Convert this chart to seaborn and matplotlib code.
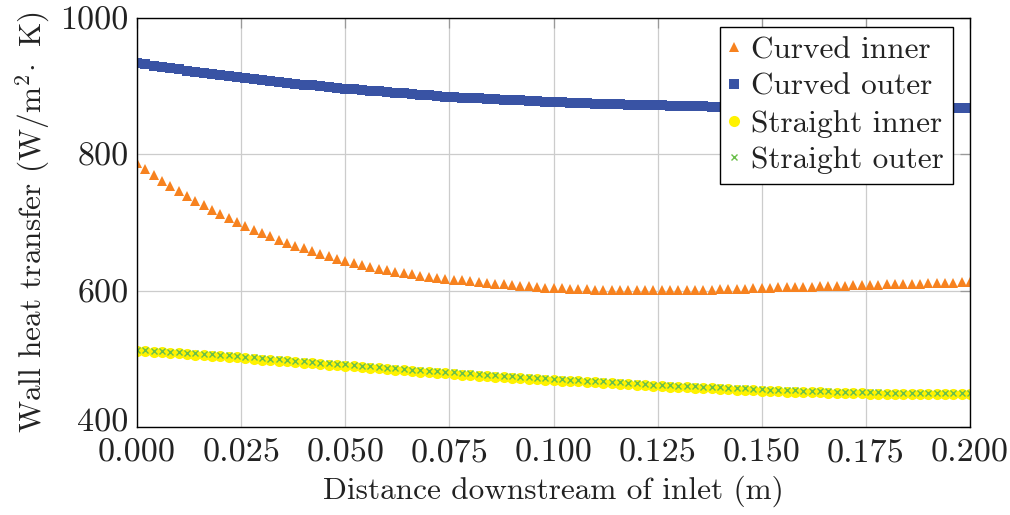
import numpy as np
import pandas as pd
import matplotlib
matplotlib.use("Agg")
import matplotlib.pyplot as plt
import matplotlib.transforms as mtransforms
import seaborn as sns

# ---------------- data ----------------
distance = [round(i * 0.002, 3) for i in range(101)]

curved_inner = [
    787, 778, 770, 761.5, 753.5, 746, 738.5, 731.5, 725, 718.5, 712.5, 706.5, 700.5,
    695, 689.5, 684.5, 679.5, 675, 670.5, 666, 662, 658, 654, 650.5, 647, 644, 640.5,
    637.5, 634.5,
    632.5, 630, 628, 626, 624, 622, 620.5, 619, 617.5,
    616, 615, 613.5, 612.5, 611.5, 610.5, 609.5, 608.5, 607.5, 606.5, 605.5, 604.5, 604,
    603.5, 603, 602.5, 602, 601.5, 601.5, 601, 601, 600.5, 600.5, 600.5, 600.5,
    600.5, 600.5, 600.5, 601, 601, 601.5, 601.5, 602, 602.5, 602.5, 603, 603.5, 604,
    604.5, 605, 605, 605.5, 606, 606, 606.5, 607, 607, 607.5, 608, 608.5,
    609, 609, 609.5, 610, 610, 610.5, 610.5, 611, 611, 611.5, 611.5, 612, 612,
]

curved_outer = [
    934, 932, 930, 928, 926, 924.5, 922.5, 921, 919.5, 918, 916.5, 915, 913,
    911.5, 910, 908.5, 907, 906, 904.5, 903.5, 902, 901, 900, 898.5, 897.5, 896.5,
    895.5, 894.5, 893.5, 892.5, 891.5, 890.5, 889.5, 888.5, 887.5, 886.5, 885.5, 884.5,
    883.5, 883, 882.5, 882, 881.5, 881, 880, 879.5, 879, 878.5, 878, 877.5, 877,
    876.5, 876, 875.5, 875, 874.5, 874.5, 874, 873.5, 873, 873, 872.5, 872,
    872, 871.5, 871, 871, 870.5, 870.5, 870, 870, 869.5, 869.5, 869.5, 869, 869,
    869, 869, 869, 868.5, 868.5, 868.5, 868.5, 868.5, 868, 868, 868, 868,
    868, 868, 868, 868, 868, 867.5, 867.5, 867.5, 867.5, 867.5, 867.5, 867.5, 867.5,
]

straight_inner = [
    512, 511, 510.5, 509.5, 508.5, 508, 507, 506, 505.5, 504.5, 503.5, 503, 502,
    501, 500, 499, 498, 497.5, 496.5, 495.5, 494.5, 493.5, 492.5, 491.5, 490.5, 490,
    489, 488, 487, 486, 485, 484, 483, 482, 481, 480, 479.5, 478.5,
    478, 477, 476.5, 475.5, 475, 474, 473.5, 472.5, 472, 471, 470.5, 469.5, 469,
    468, 467.5, 467, 466, 465.5, 465, 464, 463.5, 462.5, 462, 461, 460,
    459.5, 459, 458.5, 458, 457.5, 457, 456.5, 456, 455.5, 455, 454.5, 454, 453.5,
    453, 452.5, 452, 452, 451.5, 451, 451, 450.5, 450, 450, 449.5, 449.5,
    449, 449, 448.5, 448.5, 448.5, 448.5, 448, 448, 448, 448, 448, 448, 448,
]

straight_outer = [
    513, 512.5, 512, 511, 510.5, 509.5, 509, 508, 507, 506.5, 505.5, 505, 504,
    503, 502, 501, 500, 499.5, 498.5, 497.5, 496.5, 495.5, 494.5, 493.5, 493, 492,
    491, 490, 489, 488, 487, 486, 485, 484, 483, 482, 481.5, 480.5,
    480, 479, 478.5, 477.5, 477, 476, 475.5, 474.5, 474, 473, 472.5, 471.5, 471,
    470, 469.5, 469, 468, 467.5, 467, 466, 465.5, 464.5, 464, 463, 462,
    461.5, 461, 460.5, 460, 459.5, 459, 458.5, 458, 457.5, 457, 456.5, 456, 455.5,
    455, 454.5, 454, 454, 453.5, 453, 453, 452.5, 452, 452, 451.5, 451.5,
    451, 451, 450.5, 450.5, 450.5, 450.5, 450, 450, 450, 450, 450, 450, 450,
]

series_names = ["Curved inner", "Curved outer", "Straight inner", "Straight outer"]
x_ticks = [0.0, 0.025, 0.05, 0.075, 0.1, 0.125, 0.15, 0.175, 0.2]
y_ticks = [400, 600, 800, 1000]

# ---------------- style ----------------
sns.set_style("whitegrid")
plt.rcParams["font.family"] = ["cmr10", "DejaVu Serif"]
plt.rcParams["mathtext.fontset"] = "cm"
plt.rcParams["axes.unicode_minus"] = False
plt.rcParams["axes.formatter.use_mathtext"] = True

colors = {"Curved inner": "#f7821f", "Curved outer": "#3953a4",
          "Straight inner": "#fff200", "Straight outer": "#6abf4b"}
markers = {"Curved inner": "^", "Curved outer": "s",
           "Straight inner": "o", "Straight outer": "x"}
sizes = {"Curved inner": 6.8, "Curved outer": 7.2,
         "Straight inner": 8.0, "Straight outer": 4.6}

df = pd.DataFrame({
    "distance": distance * 4,
    "value": curved_inner + curved_outer + straight_inner + straight_outer,
    "series": sum([[n] * len(distance) for n in series_names], []),
})

fig = plt.figure(figsize=(10.10, 5.15), dpi=100)
ax = fig.add_axes([137 / 1010, 1 - 427 / 515, (970 - 137) / 1010, (427 - 18) / 515])

for name in series_names:
    sub = df[df["series"] == name]
    kw = dict(marker=markers[name], linestyle="none", markersize=sizes[name],
              color=colors[name], markeredgecolor=colors[name], label=name)
    if name == "Straight outer":
        kw.update(markeredgewidth=1.0)
    else:
        kw.update(markeredgewidth=0)
    sns.lineplot(data=sub, x="distance", y="value", ax=ax, sort=False,
                 estimator=None, **kw)

ax.set_xlim(0, 0.2)
ax.set_ylim(400, 1000)
ax.set_xticks(x_ticks)
ax.set_yticks(y_ticks)
ax.set_xticklabels([f"{t:.3f}" for t in x_ticks])
ax.set_yticklabels([str(t) for t in y_ticks])

ax.grid(True, color="#cccccc", linewidth=0.9)
for s in ax.spines.values():
    s.set_color("black")
    s.set_linewidth(1.0)
    s.set_visible(True)
ax.tick_params(axis="both", which="major", direction="in", length=7, width=0.9,
               color="#999999", labelsize=24.5, top=True, right=True,
               labelcolor="#222222")
ax.tick_params(axis="x", pad=8)
ax.tick_params(axis="y", pad=6)

# nudge the lowest y label up slightly so it does not collide with "0.000"
lab400 = ax.get_yticklabels()[0]
lab400.set_transform(lab400.get_transform() +
                     mtransforms.ScaledTranslation(0, 5 / 72, fig.dpi_scale_trans))

ax.set_xlabel("Distance downstream of inlet (m)", fontsize=22.5, labelpad=6,
              color="#222222")
ax.set_ylabel(r"Wall heat transfer (W/m$^2\!\cdot$ K)", fontsize=22.5, labelpad=6,
              color="#222222")

leg = ax.legend(loc="upper right", bbox_to_anchor=(0.98, 0.978), fontsize=22.5,
                frameon=True, fancybox=False, edgecolor="black", framealpha=1,
                handlelength=0.3, handletextpad=0.4, borderpad=0.3,
                labelspacing=0.28, borderaxespad=0)
leg.get_frame().set_linewidth(1.0)
for t in leg.get_texts():
    t.set_color("#222222")

fig.savefig("out.png", dpi=100)
